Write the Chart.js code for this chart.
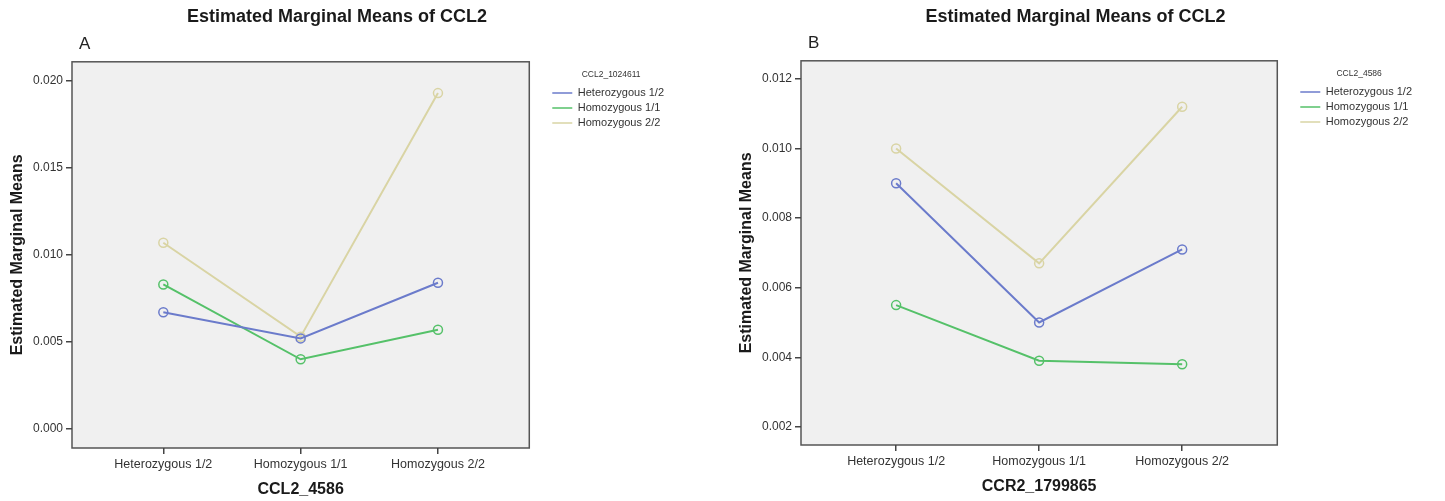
<!DOCTYPE html>
<html>
<head>
<meta charset="utf-8">
<title>Estimated Marginal Means of CCL2</title>
<script src="https://cdn.jsdelivr.net/npm/chart.js@4.4.1/dist/chart.umd.min.js"></script>
<style>
  html, body { margin: 0; padding: 0; background: #fff; }
  .panel { position: absolute; top: 0; height: 501px; }
  #panelA { left: 0; width: 692px; }
  #panelB { left: 720px; width: 725px; }
</style>
</head>
<body>
<div class="panel" id="panelA"><canvas id="chartA"></canvas></div>
<div class="panel" id="panelB"><canvas id="chartB"></canvas></div>
<script>
const genotypes = ['Heterozygous 1/2', 'Homozygous 1/1', 'Homozygous 2/2']

// panel A: x = CCL2_4586, one line per CCL2_1024611 genotype
const aHeterozygous12 = [0.0067, 0.0052, 0.0084]
const aHomozygous11 = [0.0083, 0.0040, 0.0057]
const aHomozygous22 = [0.0107, 0.0053, 0.0193]
const aYTicks = [0.000, 0.005, 0.010, 0.015, 0.020]

// panel B: x = CCR2_1799865, one line per CCL2_4586 genotype
const bHeterozygous12 = [0.0090, 0.0050, 0.0071]
const bHomozygous11 = [0.0055, 0.0039, 0.0038]
const bHomozygous22 = [0.0100, 0.0067, 0.0112]
const bYTicks = [0.002, 0.004, 0.006, 0.008, 0.010, 0.012]

const colors = { het: '#6b7bcb', hom11: '#55c169', hom22: '#d9d4a4' }

Chart.defaults.font.family = "'Liberation Sans', Arial, sans-serif"

// grey plot box like SPSS, plus the panel letter above it
const plotBox = {
  id: 'plotBox',
  beforeDraw(chart) {
    const { ctx, chartArea: { left, top, width, height } } = chart
    ctx.save()
    ctx.fillStyle = '#f0f0f0'
    ctx.fillRect(left, top, width, height)
    ctx.strokeStyle = '#555'
    ctx.lineWidth = 1.5
    ctx.strokeRect(left, top, width, height)
    ctx.restore()
  },
  afterDraw(chart, args, opts) {
    if (!opts.letter) return
    const { ctx, chartArea } = chart
    ctx.save()
    ctx.font = "17px 'Liberation Sans', Arial, sans-serif"
    ctx.fillStyle = '#222'
    ctx.textBaseline = 'middle'
    ctx.fillText(opts.letter, chartArea.left + 7, chartArea.top - 17)
    ctx.restore()
  }
}

function series(label, values, color) {
  return {
    label: label,
    data: values.map((v, i) => ({ x: i, y: v })),
    borderColor: color,
    borderWidth: 2,
    pointRadius: 4.5,
    pointBorderWidth: 1.5,
    pointBorderColor: color,
    pointBackgroundColor: 'rgba(0, 0, 0, 0)',
    tension: 0
  }
}

function drawPanel(canvasId, opts) {
  return new Chart(document.getElementById(canvasId), {
    type: 'line',
    data: {
      datasets: [
        series(genotypes[0], opts.het, colors.het),
        series(genotypes[1], opts.hom11, colors.hom11),
        series(genotypes[2], opts.hom22, colors.hom22)
      ]
    },
    options: {
      responsive: true,
      maintainAspectRatio: false,
      animation: false,
      layout: { padding: { left: opts.padLeft, right: opts.padRight, top: 0, bottom: 0 } },
      plugins: {
        title: {
          display: true,
          text: 'Estimated Marginal Means of CCL2',
          color: '#1a1a1a',
          font: { size: 18, weight: 'bold' },
          padding: { top: 6, bottom: opts.titleGap }
        },
        legend: {
          position: 'right',
          align: 'start',
          maxWidth: 200,
          title: {
            display: true,
            text: opts.legendTitle,
            color: '#333',
            font: { size: 8.5 },
            padding: { top: opts.legendTop, bottom: 3.3 }
          },
          labels: {
            usePointStyle: true,
            pointStyle: 'line',
            pointStyleWidth: 20,
            padding: 4,
            color: '#333',
            font: { size: 11 }
          }
        },
        tooltip: { enabled: false },
        plotBox: { letter: opts.letter }
      },
      scales: {
        x: {
          type: 'linear',
          min: -0.665,
          max: 2.665,
          afterBuildTicks: axis => { axis.ticks = genotypes.map((g, i) => ({ value: i })) },
          ticks: {
            callback: value => genotypes[value],
            color: '#333',
            font: { size: 12.5 },
            padding: 3,
            maxRotation: 0
          },
          grid: { drawOnChartArea: false, tickLength: 6, color: '#444', lineWidth: 1.5 },
          border: { display: false },
          title: {
            display: true,
            text: opts.xTitle,
            color: '#1a1a1a',
            font: { size: 16, weight: 'bold' },
            padding: { top: 0, bottom: opts.xTitleBottom }
          },
          afterFit: axis => { axis.height = opts.xHeight }
        },
        y: {
          min: opts.yMin,
          max: opts.yMax,
          afterBuildTicks: axis => { axis.ticks = opts.yTicks.map(v => ({ value: v })) },
          ticks: {
            callback: value => value.toFixed(3),
            color: '#333',
            font: { size: 12 },
            padding: 3
          },
          grid: { drawOnChartArea: false, tickLength: 6, color: '#444', lineWidth: 1.5 },
          border: { display: false },
          title: {
            display: true,
            text: 'Estimated Marginal Means',
            color: '#1a1a1a',
            font: { size: 16, weight: 'bold' },
            padding: { top: 8.4, bottom: 0 }
          },
          afterFit: axis => { axis.width = 72 }
        },
        // empty strip between plot box and legend
        gap: {
          position: 'right',
          display: true,
          ticks: { display: false },
          grid: { display: false },
          border: { display: false },
          afterFit: axis => { axis.width = 19 }
        }
      }
    },
    plugins: [plotBox]
  })
}

drawPanel('chartA', {
  het: aHeterozygous12, hom11: aHomozygous11, hom22: aHomozygous22,
  yTicks: aYTicks, yMin: -0.0011, yMax: 0.0211,
  letter: 'A', legendTitle: 'CCL2_1024611', xTitle: 'CCL2_4586',
  padLeft: 0, padRight: 18, titleGap: 34.2, xHeight: 53, xTitleBottom: 1.4, legendTop: 70
})

drawPanel('chartB', {
  het: bHeterozygous12, hom11: bHomozygous11, hom22: bHomozygous22,
  yTicks: bYTicks, yMin: 0.00148, yMax: 0.01252,
  letter: 'B', legendTitle: 'CCL2_4586', xTitle: 'CCR2_1799865',
  padLeft: 9, padRight: 23, titleGap: 33.2, xHeight: 56, xTitleBottom: 4.4, legendTop: 69
})
</script>
</body>
</html>
